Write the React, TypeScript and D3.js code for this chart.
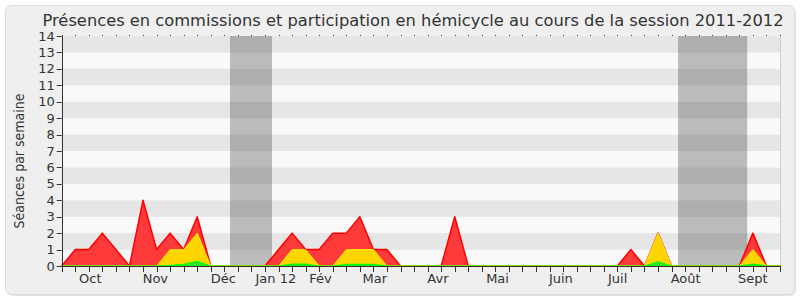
import React from "react";
import * as d3 from "d3";

const weeks: number[] = d3.range(0, 54);
const redValues: number[] = [0,1,1,2,1,0,4,1,2,1,3,0,0,0,0,0,1,2,1,1,2,2,3,1,1,0,0,0,0,3,0,0,0,0,0,0,0,0,0,0,0,0,1,0,2,0,0,0,0,0,0,2,0,0];
const yellowValues: number[] = [0,0,0,0,0,0,0,0,1,1,2,0,0,0,0,0,0,1,1,0,0,1,1,1,0,0,0,0,0,0,0,0,0,0,0,0,0,0,0,0,0,0,0,0,2,0,0,0,0,0,0,1,0,0];
const greenValues: number[] = [0,0,0,0,0,0,0,0,0.04,0.1,0.28,0,0,0,0,0,0,0.12,0.12,0,0,0.1,0.1,0.1,0,0,0,0,0,0,0,0,0,0,0,0,0,0,0,0,0,0,0,0,0.26,0,0,0,0,0,0,0.12,0,0];
const monthLabels: string[] = ["Oct","Nov","Déc","Jan 12","Fév","Mar","Avr","Mai","Juin","Juil","Août","Sept"];
const monthPositions: number[] = [2.11,6.91,11.93,15.8,19.1,23.1,27.76,32.16,36.83,41.02,46.04,51.0];
const vacationStart: number[] = [12.42,45.48];
const vacationEnd: number[] = [15.52,50.58];
const yTicks: number[] = d3.range(0, 15);
const title = "Présences en commissions et participation en hémicycle au cours de la session 2011-2012";
const yTitle = "Séances par semaine";

export default function App() {
  const W = 800, H = 300;
  const left = 61.7, right = 780, top = 36, bottom = 266;
  const x = d3.scaleLinear().domain([0, 53]).range([left, right]);
  const y = d3.scaleLinear().domain([0, 14]).range([bottom, top]);
  const area = (vals: number[]) =>
    d3.area<number>().x((_, i) => x(weeks[i])).y0(y(0)).y1((d) => y(d))(vals) || "";
  const font = "'DejaVu Sans', Verdana, sans-serif";
  return (
    <svg width={W} height={H} style={{ position: "absolute", left: 0, top: 0 }} fontFamily={font}>
      <rect x={0} y={0} width={W} height={H} fill="#ffffff" />
      <rect x={7} y={7} width={789} height={289} rx={6} fill="#e4e4e4" />
      <rect x={5.5} y={5.5} width={789} height={289} rx={6} fill="#efefef" stroke="#dcdcdc" />
      {yTicks.slice(0, 14).map((v) => (
        <rect key={v} x={left} y={y(v + 1)} width={right - left} height={y(v) - y(v + 1)}
          fill={v % 2 === 1 ? "#e6e6e6" : "#f9f9f9"} />
      ))}
      {vacationStart.map((s, i) => (
        <rect key={i} x={x(s)} y={top} width={x(vacationEnd[i]) - x(s)} height={bottom - top}
          fill="#242424" fillOpacity={0.286} />
      ))}
      <line x1={right + 0.5} x2={right + 0.5} y1={top} y2={bottom} stroke="#d0d0d0" />
      <path d={area(redValues)} fill="#ff3a3a" stroke="#ff0000" strokeWidth={1.5} strokeLinejoin="round" />
      <path d={area(yellowValues)} fill="#ffd500" stroke="#ffe800" strokeWidth={1} strokeLinejoin="round" />
      <path d={area(greenValues)} fill="#33dd33" stroke="#00ff00" strokeWidth={1.2} strokeLinejoin="round" />
      {weeks.map((w) => (
        <rect key={"d" + w} x={Math.round(x(w))} y={top - 1} width={1} height={1} fill="#333" />
      ))}
      <line x1={left} x2={right} y1={bottom + 0.5} y2={bottom + 0.5} stroke="#3a2a2a" />
      {weeks.map((w) => (
        <line key={"t" + w} x1={Math.round(x(w)) + 0.5} x2={Math.round(x(w)) + 0.5} y1={bottom} y2={bottom + 6} stroke="#333" />
      ))}
      <line x1={Math.round(left) + 0.5} x2={Math.round(left) + 0.5} y1={top} y2={bottom + 6} stroke="#333" />
      {yTicks.map((v) => (
        <g key={"y" + v}>
          <line x1={left - 5} x2={left} y1={Math.round(y(v)) + 0.5} y2={Math.round(y(v)) + 0.5} stroke="#333" />
          <text x={left - 7} y={y(v) + 4.5} textAnchor="end" fontSize={13} fill="#333">{v}</text>
        </g>
      ))}
      {monthLabels.map((m, i) => (
        <text key={m} x={x(monthPositions[i])} y={283} textAnchor="middle" fontSize={13} fill="#333">{m}</text>
      ))}
      <text x={413} y={26} textAnchor="middle" fontSize={16.3} fill="#333">{title}</text>
      <text transform={`translate(24,161) rotate(-90)`} textAnchor="middle" fontSize={14} fontStretch="condensed" fill="#333">{yTitle}</text>
    </svg>
  );
}
